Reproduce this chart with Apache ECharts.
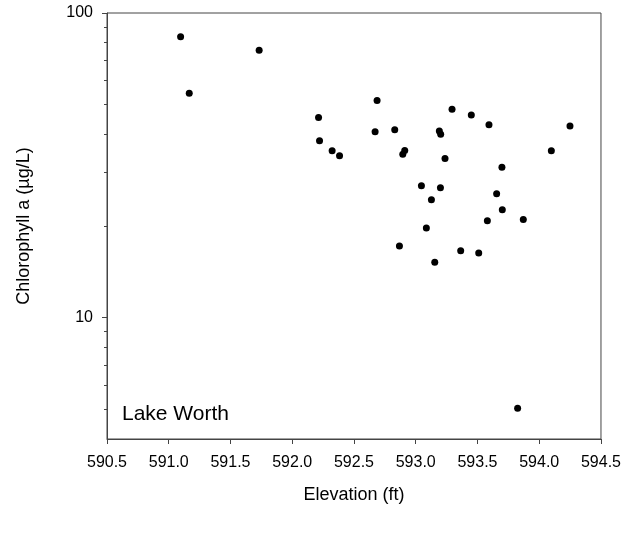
<!DOCTYPE html>
<html>
<head>
<meta charset="utf-8">
<script src="https://cdn.jsdelivr.net/npm/echarts@6/dist/echarts.min.js"></script>
<style>html,body{margin:0;padding:0;background:#fff}#c{width:624px;height:535px}</style>
</head>
<body>
<div id="c"></div>
<script>
var elevation = [591.096, 591.166, 591.732, 592.213, 592.221, 592.323, 592.383, 592.687, 592.671, 592.830, 592.911, 592.895, 593.191, 593.202, 593.294, 593.450, 593.593, 594.249, 594.098, 593.237, 593.698, 593.046, 593.200, 593.127, 593.655, 593.701, 593.580, 593.871, 593.086, 592.868, 593.364, 593.510, 593.154, 593.825];
var chlorophyll = [83.6, 54.5, 75.5, 45.4, 38.1, 35.3, 34.0, 51.6, 40.8, 41.4, 35.4, 34.4, 41.0, 40.0, 48.3, 46.3, 43.0, 42.6, 35.3, 33.3, 31.2, 27.1, 26.7, 24.4, 25.5, 22.6, 20.8, 21.0, 19.7, 17.2, 16.6, 16.3, 15.2, 5.05];
var xTicks = [590.5, 591.0, 591.5, 592.0, 592.5, 593.0, 593.5, 594.0, 594.5];
var yMajorTicks = [10, 100];
var yMinorTicks = [5, 6, 7, 8, 9, 20, 30, 40, 50, 60, 70, 80, 90];

var pts = elevation.map(function (x, i) { return [x, chlorophyll[i]]; });
var font = '"Liberation Sans", Arial, sans-serif';
var axisColor = '#444';

var chart = echarts.init(document.getElementById('c'), null, {renderer: 'canvas'});
chart.setOption({
  animation: false,
  backgroundColor: '#fff',
  title: {
    text: 'Lake Worth',
    left: 117, top: 399,
    textStyle: {fontFamily: font, fontSize: 21, fontWeight: 'normal', color: '#000'}
  },
  grid: {left: 107, right: 22.5, top: 13, bottom: 96, show: true, borderColor: axisColor, borderWidth: 1, containLabel: false},
  xAxis: {
    type: 'value', min: 590.5, max: 594.5, interval: 0.5,
    name: 'Elevation (ft)', nameLocation: 'middle', nameGap: 47,
    nameTextStyle: {fontFamily: font, fontSize: 18, color: '#000'},
    axisLine: {show: true, lineStyle: {color: axisColor, width: 1}},
    axisTick: {show: true, length: 5, lineStyle: {color: axisColor}, customValues: xTicks},
    axisLabel: {fontFamily: font, fontSize: 16, color: '#000', margin: 16,
      customValues: xTicks,
      formatter: function (v) { return v.toFixed(1); }},
    splitLine: {show: false}
  },
  yAxis: [{
    type: 'log', logBase: 10, min: 4, max: 100,
    position: 'left',
    name: 'Chlorophyll a (\u00b5g/L)', nameLocation: 'middle', nameGap: 74, nameRotate: 90,
    nameTextStyle: {fontFamily: font, fontSize: 18, color: '#000'},
    axisLine: {show: true, lineStyle: {color: axisColor, width: 1}},
    axisTick: {show: true, length: 5, lineStyle: {color: axisColor}, customValues: yMajorTicks},
    axisLabel: {fontFamily: font, fontSize: 16, color: '#000', margin: 14, customValues: yMajorTicks,
      formatter: function (v) { return String(Math.round(v)); }},
    splitLine: {show: false}
  }, {
    type: 'log', logBase: 10, min: 4, max: 100,
    position: 'left', offset: 0,
    axisLine: {show: false},
    axisTick: {show: true, length: 3, lineStyle: {color: axisColor}, customValues: yMinorTicks},
    axisLabel: {show: false},
    splitLine: {show: false}
  }],
  series: [{
    type: 'scatter',
    yAxisIndex: 0,
    data: pts,
    symbol: 'circle',
    symbolSize: 7,
    itemStyle: {color: '#000', opacity: 1}
  }]
});
</script>
</body>
</html>
